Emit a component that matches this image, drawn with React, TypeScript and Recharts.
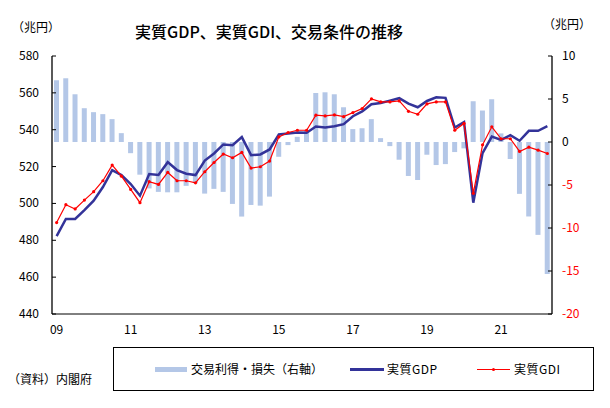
import React from 'react';
import { ComposedChart, Bar, Line, XAxis, YAxis } from 'recharts';

const quarters: string[] = [];
for (let y = 2009; y <= 2022; y++) {
  for (let q = 1; q <= 4; q++) {
    if (y === 2022 && q > 2) break;
    quarters.push(`${y}Q${q}`);
  }
}

const tradeGain = [
  7.18, 7.41, 5.55, 3.93, 3.47, 3.24, 2.66, 1.03,
  -1.3, -3.8, -5.4, -5.8, -5.85, -5.85, -5.1, -4.8,
  -6.0, -5.45, -5.8, -7.2, -8.67, -7.32, -7.4, -6.35,
  -1.72, -0.36, 0.6, 1.38, 5.7, 5.78, 5.55, 4.04,
  1.5, 1.6, 2.66, 0.45, -0.48, -2.06, -3.95, -4.42,
  -1.48, -2.68, -2.57, -1.17, -0.74, 4.74, 3.66, 4.97,
  1.0, -1.97, -6.03, -8.66, -10.8, -15.35,
];

const realGDP = [
  482.3, 491.6, 491.6, 496.4, 501.5, 508.9, 518.1, 515.4,
  510.5, 504.2, 515.9, 515.4, 522.4, 518.1, 516.1, 515.4,
  523.3, 527.1, 532.0, 531.6, 536.0, 526.2, 526.6, 529.3,
  537.4, 537.9, 538.5, 538.3, 541.7, 541.2, 541.9, 543.0,
  547.3, 549.9, 553.8, 554.5, 555.8, 557.1, 554.2, 552.2,
  555.6, 557.6, 557.3, 541.2, 544.1, 500.4, 527.3, 536.3,
  534.5, 537.0, 534.0, 539.4, 539.4, 541.9,
];

const realGDI = [
  489.6, 499.3, 497.0, 501.8, 506.4, 512.3, 520.8, 514.8,
  507.6, 500.4, 511.8, 510.3, 516.8, 512.3, 512.3, 511.2,
  517.2, 522.2, 526.8, 524.8, 527.7, 519.2, 519.9, 523.0,
  536.1, 538.5, 539.7, 539.7, 547.9, 547.5, 548.0, 547.1,
  549.3, 551.5, 556.7, 555.1, 555.1, 555.6, 550.0, 548.4,
  554.0, 555.1, 555.1, 539.7, 543.4, 505.5, 531.8, 541.6,
  535.1, 535.1, 528.2, 530.5, 528.9, 527.1,
];

const leftTicks = [440, 460, 480, 500, 520, 540, 560, 580];
const rightTicks = [-20, -15, -10, -5, 0, 5, 10];

const data = quarters.map((q, i) => ({
  q,
  trade: tradeGain[i],
  gdp: realGDP[i],
  gdi: realGDI[i],
}));

const FONT = '"Noto Sans CJK JP", "Noto Sans", sans-serif';

const RightTick = (props: any) => {
  const { x, y, payload } = props;
  const v = payload.value as number;
  return (
    <text x={x} y={y} dy={4} textAnchor="start" fontSize={12} fontFamily={FONT} fill={v < 0 ? '#ff0000' : '#000000'}>
      {v}
    </text>
  );
};

const LeftTick = (props: any) => {
  const { x, y, payload } = props;
  return (
    <text x={x} y={y} dy={4} textAnchor="end" fontSize={12} fontFamily={FONT} fill="#000000">
      {payload.value}
    </text>
  );
};

const BottomTick = (props: any) => {
  const { x, y, payload } = props;
  const s = String(payload.value).slice(2, 4);
  return (
    <text x={x} y={y} dy={10} textAnchor="middle" fontSize={12} fontFamily={FONT} fill="#000000">
      {s}
    </text>
  );
};

const RedDot = (props: any) => {
  const { cx, cy } = props;
  if (cx == null || cy == null) return null;
  return <circle cx={cx} cy={cy} r={1.6} fill="#ff0000" stroke="none" />;
};

export default function App() {
  return (
    <div style={{ position: 'absolute', left: 0, top: 0, width: 610, height: 408, background: '#fff', fontFamily: FONT }}>
      <ComposedChart width={610} height={408} data={data} margin={{ top: 56, right: 0, bottom: 64, left: 0 }}>
        <XAxis
          dataKey="q"
          interval={7}
          tickLine={false}
          axisLine={{ stroke: '#000', strokeWidth: 1 }}
          tick={<BottomTick />}
          height={30}
          tickMargin={4}
        />
        <YAxis
          yAxisId="left"
          orientation="left"
          domain={[440, 580]}
          ticks={leftTicks}
          width={52}
          tickSize={-4}
          tickMargin={17}
          axisLine={{ stroke: '#000', strokeWidth: 1.3 }}
          tickLine={{ stroke: '#000' }}
          tick={<LeftTick />}
          allowDataOverflow
        />
        <YAxis
          yAxisId="right"
          orientation="right"
          domain={[-20, 10]}
          ticks={rightTicks}
          width={58}
          tickSize={-4}
          tickMargin={14}
          axisLine={{ stroke: '#000', strokeWidth: 1.3 }}
          tickLine={{ stroke: '#000' }}
          tick={<RightTick />}
          allowDataOverflow
        />
        <Bar yAxisId="right" dataKey="trade" fill="#b4c7e7" barSize={5} isAnimationActive={false} />
        <Line yAxisId="left" dataKey="gdp" stroke="#333399" strokeWidth={2.5} dot={false} isAnimationActive={false} />
        <Line yAxisId="left" dataKey="gdi" stroke="#ff0000" strokeWidth={1.2} dot={<RedDot />} isAnimationActive={false} />
      </ComposedChart>

      <div style={{ position: 'absolute', left: 135, top: 21, fontSize: 16, color: '#000', whiteSpace: 'nowrap', lineHeight: '20px', fontWeight: 500 }}>
        実質GDP、実質GDI、交易条件の推移
      </div>
      <div style={{ position: 'absolute', left: 12, top: 19, fontSize: 12, whiteSpace: 'nowrap', lineHeight: '16px' }}>（兆円）</div>
      <div style={{ position: 'absolute', left: 543, top: 16, fontSize: 12, whiteSpace: 'nowrap', lineHeight: '16px' }}>（兆円）</div>
      <div style={{ position: 'absolute', left: 8, top: 371, fontSize: 12, whiteSpace: 'nowrap', lineHeight: '16px' }}>（資料）内閣府</div>

      <div style={{ position: 'absolute', left: 113, top: 347, width: 479, height: 42, border: '1px solid #000', boxSizing: 'content-box' }}>
        <div style={{ position: 'absolute', left: 41, top: 19, width: 32, height: 5, background: '#b4c7e7' }} />
        <div style={{ position: 'absolute', left: 77, top: 13, fontSize: 12, whiteSpace: 'nowrap', lineHeight: '16px', letterSpacing: 0 }}>交易利得・損失（右軸）</div>
        <div style={{ position: 'absolute', left: 236, top: 20, width: 34, height: 3, background: '#333399' }} />
        <div style={{ position: 'absolute', left: 273, top: 13, fontSize: 12, whiteSpace: 'nowrap', lineHeight: '16px', letterSpacing: 0.5 }}>実質GDP</div>
        <div style={{ position: 'absolute', left: 363, top: 21, width: 33, height: 1.3, background: '#ff0000' }} />
        <div style={{ position: 'absolute', left: 378, top: 19.5, width: 3, height: 3, borderRadius: 2, background: '#ff0000' }} />
        <div style={{ position: 'absolute', left: 400, top: 13, fontSize: 12, whiteSpace: 'nowrap', lineHeight: '16px', letterSpacing: 0.5 }}>実質GDI</div>
      </div>
    </div>
  );
}
